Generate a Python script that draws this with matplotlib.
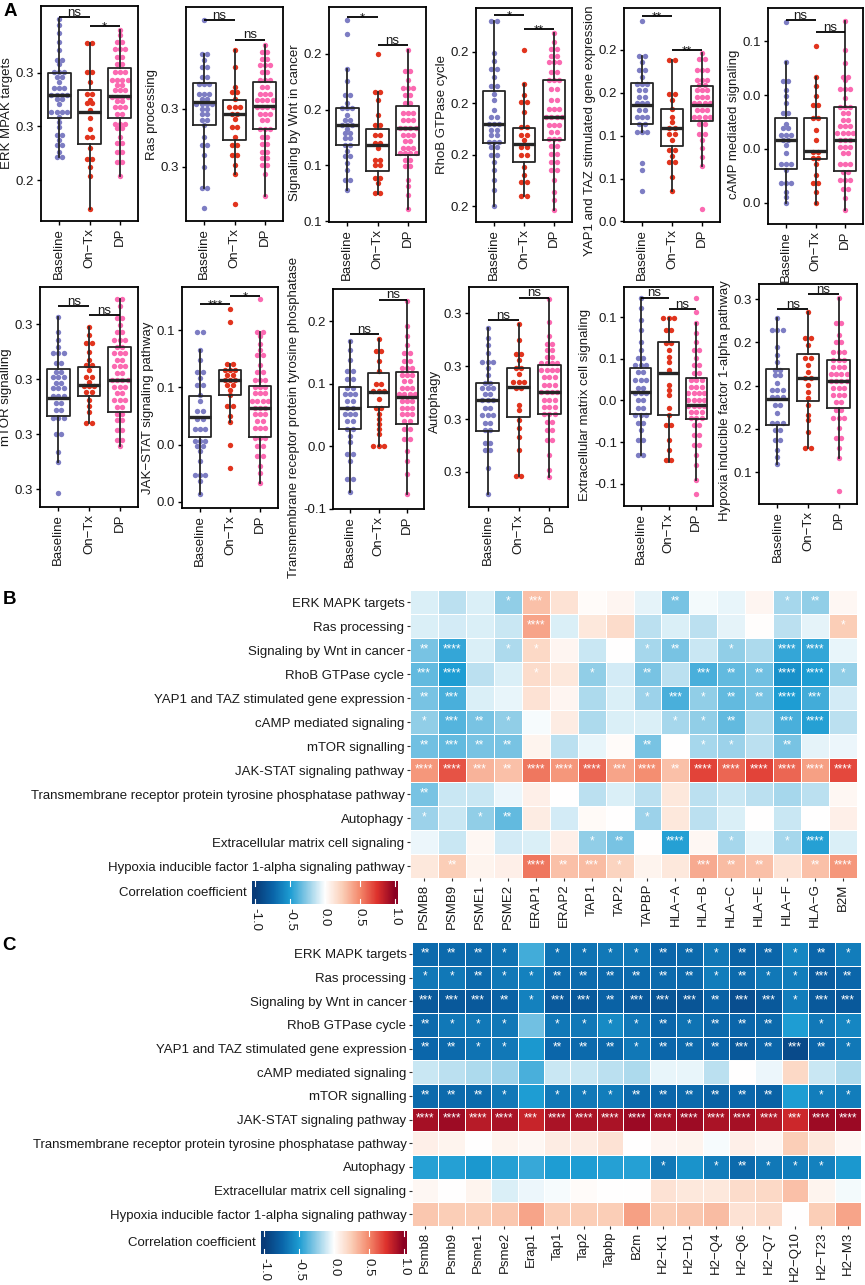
""" <plot.py>

    Boxplots of pathway scores plus two correlation heatmaps."""

import numpy as np
import matplotlib
matplotlib.use("Agg")
from matplotlib import pyplot as plt
from matplotlib.colors import LinearSegmentedColormap
from matplotlib.ticker import FormatStrFormatter

plt.rcParams["font.family"] = ["Liberation Sans", "DejaVu Sans"]
plt.rcParams["axes.unicode_minus"] = False

W, H = 865, 1285

groups = ["Baseline", "On\u2212Tx", "DP"]
group_colors = ["#7D7DC3", "#E1341E", "#FB69B1"]

# Panel A data: dot rows as (value, count), box as (low, q1, median, q3, high)
# -----------------------------------------------------------------------------

erk_ticks = [0.24, 0.26, 0.28]
erk_base = [(.300, 1), (.298, 1), (.295, 1), (.2916, 1), (.2884, 1), (.285, 2), (.2835, 1), (.2804, 3), (.2785, 2),
            (.2766, 1), (.2745, 3), (.2719, 4), (.2701, 2), (.2685, 1), (.2654, 4), (.2635, 1), (.2616, 1), (.2599, 1),
            (.2568, 2), (.2549, 1), (.253, 2), (.2506, 1), (.2487, 2)]
erk_ontx = [(.2912, 2), (.2804, 2), (.2766, 1), (.2723, 2), (.2700, 1), (.2686, 2), (.266, 1), (.263, 1), (.259, 1),
            (.256, 2), (.252, 1), (.248, 2), (.245, 1), (.2415, 1), (.229, 1)]
erk_dp = [(.2961, 1), (.294, 1), (.2916, 2), (.289, 3), (.286, 2), (.2835, 2), (.2804, 3), (.2773, 4), (.2754, 2),
          (.2735, 3), (.2711, 4), (.2695, 2), (.2673, 3), (.2648, 2), (.2611, 3), (.2593, 2), (.2561, 1), (.2537, 2),
          (.2506, 2), (.2468, 2), (.2415, 1)]
erk_box = [[.2487, .2632, .2719, .2801, .300], [.229, .2534, .2655, .2735, .2912], [.2415, .263, .2714, .2819, .2961]]
erk_sig = [("ns", .3009), ("*", .2975)]

ras_ticks = [0.28, 0.30]
ras_base = [(.3303, 1), (.3189, 2), (.3166, 1), (.3143, 2), (.3109, 2), (.3086, 3), (.3051, 3), (.3034, 2), (.3017, 4),
            (.300, 2), (.2983, 2), (.296, 2), (.2943, 1), (.2903, 1), (.2874, 2), (.284, 1), (.280, 1), (.2726, 2),
            (.2657, 1)]
ras_ontx = [(.320, 1), (.3143, 1), (.3074, 1), (.3057, 2), (.3034, 1), (.3006, 3), (.2983, 2), (.2966, 1), (.2937, 2),
            (.2903, 1), (.2874, 2), (.284, 2), (.2806, 1), (.2777, 1), (.2671, 1)]
ras_dp = [(.3217, 1), (.3194, 2), (.3171, 2), (.3149, 3), (.3126, 2), (.3097, 3), (.3074, 2), (.3051, 3), (.3029, 4),
          (.3006, 4), (.2983, 3), (.296, 2), (.2931, 3), (.2903, 2), (.288, 2), (.2851, 2), (.2829, 2), (.2806, 2),
          (.2777, 1), (.270, 1)]
ras_box = [[.2726, .2945, .3021, .3089, .3189], [.2777, .2893, .2982, .3031, .320], [.270, .2931, .3009, .3093, .3217]]
ras_sig = [("ns", .3303), ("ns", .3237)]

wnt_ticks = [0.10, 0.14, 0.18, 0.22]
wnt_base = [(.2443, 1), (.2341, 1), (.2093, 1), (.2002, 1), (.1907, 2), (.1847, 1), (.1811, 3), (.1763, 1), (.1728, 2),
            (.1692, 3), (.166, 1), (.1632, 2), (.1596, 2), (.1549, 2), (.1501, 1), (.1465, 2), (.1418, 1), (.137, 1),
            (.1298, 2), (.1222, 1)]
wnt_ontx = [(.2198, 1), (.1923, 2), (.1871, 1), (.1763, 1), (.1692, 2), (.162, 2), (.156, 2), (.1525, 1), (.1441, 2),
            (.1406, 2), (.131, 2), (.1274, 1), (.1203, 2)]
wnt_dp = [(.2224, 1), (.2074, 2), (.2014, 1), (.1954, 3), (.1907, 2), (.1847, 2), (.1775, 3), (.1728, 3), (.1668, 4),
          (.162, 3), (.1573, 2), (.1525, 3), (.149, 4), (.1441, 2), (.1394, 2), (.1298, 1), (.1251, 1), (.1191, 1),
          (.1088, 1)]
wnt_box = [[.1222, .1549, .1687, .1811, .2093], [.1196, .1363, .1549, .1663, .1923], [.1088, .1477, .1668, .1828, .2224]]
wnt_sig = [("*", .246), ("ns", .226)]

rhob_ticks = [0.18, 0.20, 0.22, 0.24]
rhob_base = [(.252, 2), (.2395, 1), (.2365, 1), (.2333, 2), (.230, 1), (.2268, 2), (.2236, 1), (.221, 1), (.2171, 1),
             (.2145, 2), (.2117, 3), (.2094, 2), (.2074, 2), (.2048, 3), (.2029, 2), (.1997, 2), (.1971, 1),
             (.1939, 1), (.190, 1), (.1861, 1), (.1802, 1)]
rhob_ontx = [(.2404, 1), (.2275, 1), (.2233, 1), (.2203, 2), (.2165, 1), (.2107, 2), (.2074, 2), (.2055, 1),
             (.2029, 2), (.1997, 2), (.1951, 1), (.1919, 1), (.1893, 2), (.1838, 2)]
rhob_dp = [(.2472, 1), (.2436, 1), (.241, 2), (.2384, 2), (.2359, 3), (.232, 2), (.2288, 3), (.2255, 2), (.221, 2),
           (.2178, 3), (.2145, 4), (.2113, 3), (.2087, 2), (.2061, 3), (.2035, 2), (.2003, 2), (.1971, 2), (.1938, 2),
           (.190, 1), (.1855, 1), (.1822, 1), (.1786, 1)]
rhob_box = [[.1802, .2044, .2117, .2246, .252], [.1838, .1971, .2039, .2104, .2275], [.1786, .2057, .2145, .2291, .2472]]
rhob_sig = [("*", .254), ("**", .2488)]

yap_ticks = [0.04, 0.08, 0.12, 0.16, 0.20]
yap_base = [(.2266, 1), (.1947, 2), (.1886, 1), (.1808, 2), (.1746, 1), (.1684, 3), (.1623, 2), (.156, 2), (.150, 3),
            (.1437, 2), (.1375, 3), (.1313, 2), (.1236, 3), (.0942, 1), (.088, 1), (.0688, 1)]
yap_ontx = [(.1901, 2), (.1592, 2), (.153, 1), (.1452, 1), (.1375, 1), (.1329, 1), (.1267, 2), (.122, 2), (.1158, 1),
            (.1066, 2), (.101, 1), (.0957, 2), (.0818, 1), (.0688, 1)]
yap_dp = [(.1969, 1), (.1916, 2), (.1808, 3), (.1715, 3), (.1669, 2), (.1623, 3), (.156, 3), (.150, 4), (.1437, 3),
          (.1375, 4), (.1313, 2), (.122, 2), (.1158, 1), (.1081, 1), (.1004, 1), (.092, 1), (.0515, 1)]
yap_box = [[.1236, .1307, .149, .169, .1947], [.0688, .1103, .127, .1452, .1901], [.092, .1338, .149, .166, .1969]]
yap_sig = [("**", .2319), ("**", .2003)]

camp_ticks = [0.00, 0.02, 0.04, 0.06]
camp_base = [(.0672, 1), (.0523, 1), (.0451, 2), (.042, 1), (.0395, 1), (.037, 1), (.0332, 2), (.0293, 1), (.0276, 2),
             (.0251, 3), (.0233, 2), (.0214, 1), (.0183, 1), (.0145, 3), (.012, 1), (.0071, 3), (.004, 1), (.0021, 1),
             (.000, 1)]
camp_ontx = [(.0584, 1), (.0467, 1), (.0435, 1), (.0395, 1), (.0364, 2), (.0314, 2), (.027, 1), (.0233, 1), (.0189, 2),
             (.0164, 2), (.0145, 1), (.0101, 1), (.0071, 2), (.004, 1), (.000, 1)]
camp_dp = [(.0675, 1), (.0566, 1), (.0519, 1), (.0469, 2), (.0457, 1), (.0422, 3), (.0388, 1), (.0357, 3), (.0332, 2),
           (.0308, 2), (.0283, 3), (.0258, 4), (.0233, 3), (.0208, 3), (.0183, 2), (.0145, 3), (.0115, 2), (.0084, 3),
           (.0052, 2), (.0015, 1), (-.0028, 1)]
camp_box = [[.000, .0125, .0233, .0314, .0523], [-.0004, .0162, .0193, .0315, .0467], [-.0028, .0117, .0233, .0357, .0675]]
camp_sig = [("ns", .0678), ("ns", .0635)]

mtor_ticks = [0.26, 0.28, 0.30, 0.32]
mtor_base = [(.3227, 1), (.3172, 1), (.3142, 1), (.3116, 1), (.3095, 3), (.3058, 2), (.3025, 2), (.3007, 3), (.2985, 2),
             (.2967, 3), (.2938, 3), (.2913, 2), (.2887, 2), (.2858, 3), (.280, 2), (.2735, 1), (.2698, 1), (.2585, 1)]
mtor_ontx = [(.319, 1), (.316, 1), (.313, 2), (.3098, 1), (.3069, 1), (.3051, 2), (.3033, 1), (.3007, 2), (.2989, 1),
             (.2975, 3), (.2953, 2), (.2924, 1), (.2902, 1), (.288, 1), (.284, 2)]
mtor_dp = [(.3291, 2), (.3265, 1), (.3222, 2), (.3196, 1), (.3171, 2), (.3142, 3), (.3116, 2), (.3095, 3), (.3069, 2),
           (.3047, 3), (.3022, 2), (.2996, 4), (.2971, 3), (.2949, 2), (.2924, 3), (.2898, 2), (.2873, 2), (.2851, 2),
           (.2815, 2), (.2778, 2), (.2756, 1)]
mtor_box = [[.2698, .2866, .2932, .3035, .3227], [.2839, .2938, .2978, .3045, .319], [.2756, .2879, .2996, .3117, .3291]]
mtor_sig = [("ns", .3265), ("ns", .3232)]

jak_ticks = [0.00, 0.04, 0.08, 0.12]
jak_base = [(.1188, 2), (.106, 1), (.099, 1), (.0905, 2), (.0863, 1), (.0814, 2), (.0744, 1), (.0709, 1), (.0639, 2),
            (.0583, 2), (.0512, 3), (.0428, 3), (.0393, 2), (.0358, 1), (.0288, 1), (.019, 3), (.0147, 1), (.0056, 1)]
jak_ontx = [(.1345, 1), (.1258, 1), (.0966, 2), (.0919, 3), (.0884, 2), (.0849, 3), (.0814, 2), (.0779, 1), (.0744, 1),
            (.0674, 2), (.0604, 1), (.0556, 1), (.0398, 1), (.024, 1)]
jak_dp = [(.1415, 1), (.1188, 2), (.1158, 1), (.1107, 1), (.106, 1), (.1025, 2), (.0954, 1), (.0905, 2), (.0849, 3),
          (.080, 3), (.0758, 3), (.0709, 4), (.066, 3), (.0618, 3), (.0568, 2), (.0519, 3), (.0449, 3), (.0393, 2),
          (.0323, 2), (.0253, 1), (.0204, 1), (.0135, 1)]
jak_box = [[.0054, .0451, .0592, .0739, .106], [.0556, .0744, .0854, .0919, .0966], [.0135, .0451, .0658, .0809, .1188]]
jak_sig = [("***", .1382), ("*", .1439)]

tm_ticks = [-0.1, 0.0, 0.1, 0.2]
tm_base = [(.168, 1), (.155, 1), (.139, 1), (.120, 2), (.107, 2), (.094, 2), (.083, 3), (.072, 2), (.062, 2), (.051, 3),
           (.040, 2), (.027, 2), (.016, 1), (.0065, 1), (-.0125, 2), (-.0237, 1), (-.052, 2), (-.0727, 1)]
tm_ontx = [(.172, 1), (.152, 2), (.136, 1), (.120, 1), (.099, 2), (.088, 3), (.075, 1), (.062, 2), (.051, 1), (.043, 1),
           (.035, 1), (.027, 1), (.019, 1), (.000, 3)]
tm_dp = [(.233, 1), (.192, 1), (.177, 1), (.163, 1), (.150, 2), (.136, 2), (.126, 3), (.115, 3), (.104, 2), (.094, 3),
         (.083, 4), (.072, 3), (.062, 3), (.051, 3), (.040, 2), (.027, 2), (.011, 2), (-.008, 1), (-.024, 1),
         (-.045, 1), (-.076, 1)]
tm_box = [[-.0727, .0273, .0608, .0947, .168], [.000, .0628, .0868, .1177, .172], [-.0764, .0364, .0788, .1186, .233]]
tm_sig = [("ns", .180), ("ns", .2346)]

auto_ticks = [0.26, 0.28, 0.30, 0.32]
auto_base = [(.3143, 1), (.3106, 1), (.308, 1), (.305, 1), (.3017, 3), (.2993, 1), (.2967, 1), (.2937, 2), (.2917, 3),
             (.2895, 2), (.2872, 3), (.2841, 2), (.2815, 3), (.2785, 2), (.2758, 2), (.2709, 2), (.2682, 2),
             (.2614, 1), (.2518, 1)]
auto_ontx = [(.316, 1), (.3099, 1), (.3048, 2), (.3023, 1), (.2993, 2), (.297, 1), (.294, 3), (.2917, 2), (.2853, 1),
             (.2834, 1), (.2796, 1), (.2765, 1), (.2733, 1), (.2682, 1), (.2585, 2)]
auto_dp = [(.3253, 1), (.3168, 1), (.3114, 1), (.3086, 2), (.3061, 2), (.3034, 2), (.3012, 4), (.2985, 4), (.2959, 3),
           (.2928, 3), (.2902, 4), (.2872, 3), (.2845, 3), (.2819, 3), (.2788, 2), (.2758, 2), (.272, 2), (.2663, 1),
           (.2606, 1), (.2581, 1)]
auto_box = [[.2518, .2755, .2872, .2937, .3143], [.2585, .2806, .2922, .2992, .316], [.2581, .2819, .2903, .3004, .3253]]
auto_sig = [("ns", .3175), ("ns", .3259)]

ecm_ticks = [-0.10, -0.05, 0.0, 0.05, 0.10]
ecm_base = [(.1229, 1), (.111, 1), (.0967, 1), (.0847, 1), (.0706, 1), (.0606, 1), (.051, 2), (.0426, 3), (.0341, 2),
            (.0245, 3), (.0149, 2), (.0088, 3), (.000, 2), (-.0092, 2), (-.0177, 3), (-.0273, 2), (-.0358, 1),
            (-.0478, 2), (-.0659, 2)]
ecm_ontx = [(.0988, 3), (.0847, 2), (.069, 2), (.0606, 1), (.0522, 1), (.046, 1), (.0365, 1), (.0184, 1), (.0125, 1),
            (.006, 1), (-.0093, 1), (-.0177, 1), (-.0297, 2), (-.048, 1), (-.060, 1), (-.072, 2)]
ecm_dp = [(.1236, 1), (.1067, 1), (.0935, 1), (.081, 1), (.0706, 1), (.0606, 2), (.051, 1), (.0426, 2), (.0325, 2),
          (.0245, 3), (.0161, 3), (.0088, 4), (.000, 4), (-.0068, 4), (-.014, 3), (-.0213, 3), (-.0297, 2),
          (-.0417, 2), (-.0537, 2), (-.0659, 1), (-.078, 1), (-.0952, 1), (-.112, 1)]
ecm_box = [[-.0659, -.0169, .0104, .0386, .1229], [-.074, -.0177, .0325, .0699, .0988], [-.0952, -.0229, -.0057, .0265, .0935]]
ecm_sig = [("ns", .1236), ("ns", .1096)]

hif_ticks = [0.14, 0.17, 0.20, 0.23, 0.26]
hif_base = [(.247, 1), (.2385, 3), (.227, 1), (.2212, 1), (.2163, 1), (.2108, 2), (.2073, 2), (.2018, 1), (.1969, 3),
            (.1921, 3), (.1865, 2), (.181, 1), (.174, 3), (.1692, 2), (.1623, 2), (.1554, 1), (.1505, 1), (.1457, 1)]
hif_ontx = [(.2512, 1), (.2328, 2), (.2281, 1), (.2189, 2), (.2143, 1), (.2094, 1), (.2053, 2), (.2004, 1), (.1956, 1),
            (.1914, 1), (.1865, 1), (.1796, 1), (.1761, 1), (.1678, 1), (.1567, 2)]
hif_dp = [(.2609, 1), (.2436, 2), (.235, 1), (.2304, 2), (.2235, 3), (.2177, 3), (.2129, 3), (.208, 4), (.2032, 4),
          (.1983, 3), (.1935, 3), (.1886, 2), (.1831, 2), (.1775, 3), (.1706, 1), (.1637, 2), (.1567, 1), (.150, 1),
          (.127, 1)]
hif_box = [[.1455, .1727, .1905, .2113, .247], [.1565, .1895, .2055, .2219, .2512], [.150, .1843, .2032, .2177, .2609]]
hif_sig = [("ns", .2529), ("ns", .2635)]

panels = [
    ("ERK MPAK targets", erk_ticks, [erk_base, erk_ontx, erk_dp], erk_box, erk_sig),
    ("Ras processing", ras_ticks, [ras_base, ras_ontx, ras_dp], ras_box, ras_sig),
    ("Signaling by Wnt in cancer", wnt_ticks, [wnt_base, wnt_ontx, wnt_dp], wnt_box, wnt_sig),
    ("RhoB GTPase cycle", rhob_ticks, [rhob_base, rhob_ontx, rhob_dp], rhob_box, rhob_sig),
    ("YAP1 and TAZ stimulated gene expression", yap_ticks, [yap_base, yap_ontx, yap_dp], yap_box, yap_sig),
    ("cAMP mediated signaling", camp_ticks, [camp_base, camp_ontx, camp_dp], camp_box, camp_sig),
    ("mTOR signalling", mtor_ticks, [mtor_base, mtor_ontx, mtor_dp], mtor_box, mtor_sig),
    ("JAK\u2212STAT signaling pathway", jak_ticks, [jak_base, jak_ontx, jak_dp], jak_box, jak_sig),
    ("Transmembrane receptor protein tyrosine phosphatase", tm_ticks, [tm_base, tm_ontx, tm_dp], tm_box, tm_sig),
    ("Autophagy", auto_ticks, [auto_base, auto_ontx, auto_dp], auto_box, auto_sig),
    ("Extracellular matrix cell signaling", ecm_ticks, [ecm_base, ecm_ontx, ecm_dp], ecm_box, ecm_sig),
    ("Hypoxia inducible factor 1-alpha pathway", hif_ticks, [hif_base, hif_ontx, hif_dp], hif_box, hif_sig),
]

# Panels B and C: correlation heatmaps
# ------------------------------------

pathways = ["ERK MAPK targets", "Ras processing", "Signaling by Wnt in cancer", "RhoB GTPase cycle",
            "YAP1 and TAZ stimulated gene expression", "cAMP mediated signaling", "mTOR signalling",
            "JAK-STAT signaling pathway", "Transmembrane receptor protein tyrosine phosphatase pathway",
            "Autophagy", "Extracellular matrix cell signaling", "Hypoxia inducible factor 1-alpha signaling pathway"]

human_genes = ["PSMB8", "PSMB9", "PSME1", "PSME2", "ERAP1", "ERAP2", "TAP1", "TAP2", "TAPBP",
               "HLA\u2212A", "HLA\u2212B", "HLA\u2212C", "HLA\u2212E", "HLA\u2212F", "HLA\u2212G", "B2M"]
mouse_genes = ["Psmb8", "Psmb9", "Psme1", "Psme2", "Erap1", "Tap1", "Tap2", "Tapbp", "B2m", "H2\u2212K1",
               "H2\u2212D1", "H2\u2212Q4", "H2\u2212Q6", "H2\u2212Q7", "H2\u2212Q10", "H2\u2212T23", "H2\u2212M3"]

b_vals = [
    [-0.08, -0.15, -0.08, -0.25, 0.30, 0.15, 0.02, 0.05, -0.06, -0.30, -0.03, -0.05, 0.05, -0.20, -0.25, 0.04],
    [-0.08, -0.10, -0.08, -0.12, 0.40, -0.08, 0.12, 0.18, -0.15, -0.08, -0.15, -0.06, 0.01, -0.15, -0.06, 0.25],
    [-0.30, -0.45, -0.08, -0.18, 0.20, 0.05, -0.12, 0.00, -0.20, -0.30, -0.12, -0.25, -0.18, -0.45, -0.45, -0.05],
    [-0.35, -0.50, -0.15, -0.08, 0.18, 0.12, -0.25, -0.10, -0.30, -0.15, -0.40, -0.35, -0.32, -0.55, -0.50, -0.25],
    [-0.30, -0.40, -0.08, -0.05, 0.15, 0.05, -0.18, -0.08, -0.22, -0.40, -0.25, -0.35, -0.30, -0.50, -0.42, -0.10],
    [-0.25, -0.38, -0.30, -0.25, -0.02, 0.10, -0.18, -0.08, -0.08, -0.20, -0.25, -0.35, -0.18, -0.40, -0.48, -0.15],
    [-0.32, -0.35, -0.30, -0.30, 0.06, -0.15, -0.05, 0.02, -0.30, 0.00, -0.20, -0.22, -0.15, -0.30, -0.06, -0.04],
    [0.45, 0.65, 0.35, 0.30, 0.55, 0.45, 0.60, 0.40, 0.48, 0.30, 0.70, 0.60, 0.70, 0.60, 0.42, 0.68],
    [-0.30, -0.12, -0.12, -0.04, 0.08, 0.00, -0.15, -0.08, -0.15, 0.12, -0.15, -0.12, -0.15, -0.20, -0.15, 0.04],
    [-0.22, -0.12, -0.25, -0.35, 0.10, -0.10, 0.03, 0.00, -0.22, 0.12, -0.15, -0.08, 0.00, -0.12, 0.00, 0.08],
    [-0.04, -0.12, 0.04, -0.10, -0.08, 0.08, -0.25, -0.30, 0.00, -0.48, 0.04, -0.20, -0.05, -0.20, -0.48, -0.08],
    [0.12, 0.25, 0.06, 0.08, 0.55, 0.30, 0.32, 0.22, 0.06, 0.12, 0.38, 0.32, 0.30, 0.15, 0.30, 0.45],
]
b_stars = [
    [0, 0, 0, 1, 3, 0, 0, 0, 0, 2, 0, 0, 0, 1, 2, 0],
    [0, 0, 0, 0, 4, 0, 0, 0, 0, 0, 0, 0, 0, 0, 0, 1],
    [2, 4, 0, 1, 1, 0, 0, 0, 1, 2, 0, 1, 0, 4, 4, 0],
    [3, 4, 0, 0, 1, 0, 1, 0, 2, 0, 3, 2, 2, 4, 4, 1],
    [2, 3, 0, 0, 0, 0, 0, 0, 1, 3, 1, 2, 2, 4, 3, 0],
    [1, 3, 2, 1, 0, 0, 0, 0, 0, 1, 1, 2, 0, 3, 4, 0],
    [2, 3, 2, 2, 0, 0, 0, 0, 2, 0, 1, 1, 0, 2, 0, 0],
    [4, 4, 3, 2, 4, 4, 4, 3, 4, 2, 4, 4, 4, 4, 4, 4],
    [2, 0, 0, 0, 0, 0, 0, 0, 0, 0, 0, 0, 0, 0, 0, 0],
    [1, 0, 1, 2, 0, 0, 0, 0, 1, 0, 0, 0, 0, 0, 0, 0],
    [0, 0, 0, 0, 0, 0, 1, 2, 0, 4, 0, 1, 0, 1, 4, 0],
    [0, 2, 0, 0, 4, 2, 3, 1, 0, 0, 3, 2, 2, 0, 2, 4],
]

c_vals = [
    [-0.72, -0.72, -0.72, -0.68, -0.42, -0.68, -0.68, -0.66, -0.66, -0.74, -0.72, -0.66, -0.76, -0.74, -0.60, -0.74, -0.64],
    [-0.66, -0.66, -0.72, -0.66, -0.62, -0.72, -0.72, -0.72, -0.72, -0.72, -0.72, -0.64, -0.72, -0.66, -0.64, -0.80, -0.74],
    [-0.82, -0.82, -0.82, -0.76, -0.62, -0.82, -0.82, -0.76, -0.82, -0.84, -0.84, -0.76, -0.88, -0.82, -0.64, -0.82, -0.82],
    [-0.72, -0.66, -0.66, -0.66, -0.32, -0.66, -0.66, -0.58, -0.66, -0.74, -0.68, -0.72, -0.74, -0.72, -0.50, -0.66, -0.60],
    [-0.74, -0.72, -0.68, -0.66, -0.52, -0.74, -0.72, -0.72, -0.66, -0.74, -0.72, -0.74, -0.82, -0.74, -0.90, -0.74, -0.66],
    [-0.12, -0.15, -0.18, -0.22, -0.40, -0.12, -0.12, -0.15, -0.18, -0.05, -0.05, -0.15, 0.00, -0.04, 0.20, -0.12, -0.18],
    [-0.72, -0.72, -0.72, -0.66, -0.50, -0.66, -0.66, -0.64, -0.72, -0.74, -0.72, -0.76, -0.74, -0.76, -0.50, -0.64, -0.64],
    [0.92, 0.94, 0.86, 0.90, 0.82, 0.90, 0.90, 0.90, 0.95, 0.92, 0.94, 0.90, 0.92, 0.88, 0.80, 0.94, 0.95],
    [0.08, 0.06, 0.00, 0.06, 0.04, 0.10, 0.10, 0.15, 0.00, 0.05, 0.06, -0.02, 0.08, 0.05, 0.25, 0.12, 0.04],
    [-0.48, -0.48, -0.52, -0.48, -0.44, -0.50, -0.50, -0.48, -0.48, -0.66, -0.54, -0.64, -0.72, -0.66, -0.64, -0.62, -0.52],
    [0.04, 0.00, 0.06, -0.08, -0.04, -0.02, 0.02, 0.00, 0.00, 0.15, 0.12, 0.12, 0.18, 0.20, 0.30, 0.06, -0.03],
    [0.28, 0.25, 0.25, 0.28, 0.40, 0.25, 0.25, 0.25, 0.42, 0.25, 0.28, 0.32, 0.15, 0.18, 0.00, 0.25, 0.40],
]
c_stars = [
    [2, 2, 2, 1, 0, 1, 1, 1, 1, 2, 2, 1, 2, 2, 1, 2, 1],
    [1, 1, 2, 1, 1, 2, 2, 2, 2, 2, 2, 1, 2, 1, 1, 3, 2],
    [3, 3, 3, 2, 1, 3, 3, 2, 3, 3, 3, 2, 3, 3, 1, 3, 3],
    [2, 1, 1, 1, 0, 1, 1, 1, 1, 2, 1, 2, 2, 2, 0, 1, 1],
    [2, 2, 1, 1, 0, 2, 2, 2, 1, 2, 2, 2, 3, 2, 3, 2, 1],
    [0] * 17,
    [2, 2, 2, 1, 0, 1, 1, 1, 2, 2, 2, 2, 2, 2, 0, 1, 1],
    [4, 4, 4, 4, 3, 4, 4, 4, 4, 4, 4, 4, 4, 4, 3, 4, 4],
    [0] * 17,
    [0, 0, 0, 0, 0, 0, 0, 0, 0, 1, 0, 1, 2, 1, 1, 1, 0],
    [0] * 17,
    [0] * 17,
]

cbar_ticks = [-1.0, -0.5, 0.0, 0.5, 1.0]

# Layout (pixels): x0, y0, x1, y1, ymin, ymax, ylabel y position
# ---------------------------------------------------------------

layout = [
    (41, 6, 138, 221, .2247, .3050, .50),
    (186, 7, 283, 221, .2614, .3349, .50),
    (329, 7, 426, 222, .0995, .2534, .46),
    (476, 8, 572, 222, .1738, .2569, .50),
    (624, 8, 720, 222, .0395, .2390, .425),
    (768, 8, 863, 224, -.0080, .0724, .46),
    (40, 287, 138, 507, .2535, .3335, .50),
    (182, 287, 278, 508, -.0042, .1502, .455),
    (333, 289, 424, 509, -.1005, .2520, .418),
    (469, 287, 568, 507, .2467, .3300, .48),
    (624, 287, 713, 506, -.1270, .1365, .46),
    (759, 284, 857, 504, .1180, .2704, .47),
]

cmap = LinearSegmentedColormap.from_list("corr", [
    (0.0, "#083B78"), (0.125, "#0A64A8"), (0.25, "#1D9DD3"), (0.375, "#90CDE7"), (0.5, "#FFFFFF"),
    (0.625, "#FBCFB8"), (0.75, "#F4896C"), (0.875, "#DE322D"), (1.0, "#8B0022")])

TXT = "#1a1a1a"
FS = 9.5

fig = plt.figure(figsize=(W / 100, H / 100), dpi=100)


def px_axes(x0, y0, x1, y1):
    return fig.add_axes([x0 / W, 1 - y1 / H, (x1 - x0) / W, (y1 - y0) / H])


# Panel A
# -------

for (label, ticks, rows3, box3, sig), (x0, y0, x1, y1, ylo, yhi, lab_y) in zip(panels, layout):
    ax = px_axes(x0, y0, x1, y1)
    dx = 5.3 * 3.2 / (x1 - x0)

    for i, rows in enumerate(rows3):
        xs, ys = [], []
        for v, n in rows:
            xs.extend(i + 1 + (np.arange(n) - (n - 1) / 2) * dx)
            ys.extend([v] * n)
        ax.scatter(xs, ys, s=15, color=group_colors[i], linewidths=0, zorder=2)

    stats = [dict(whislo=b[0], q1=b[1], med=b[2], q3=b[3], whishi=b[4]) for b in box3]
    line = dict(color="#262626", linewidth=1.3)
    ax.bxp(stats, positions=[1, 2, 3], widths=0.75, showfliers=False, showcaps=False,
           boxprops=line, whiskerprops=line, medianprops=dict(color="#262626", linewidth=2.4), zorder=3)

    for k, (txt, y) in enumerate(sig):
        ax.plot([k + 1, k + 2], [y, y], color="black", lw=1.3, solid_capstyle="butt", clip_on=False, zorder=4)
        off = 1.0 if txt == "ns" else -3.2
        ax.annotate(txt, xy=(k + 1.5, y), xytext=(0, off), textcoords="offset points", ha="center",
                    va="baseline", fontsize=FS, color=TXT, annotation_clip=False)

    ax.set_xlim(0.4, 3.6)
    ax.set_ylim(ylo, yhi)
    ax.set_yticks(ticks)
    ax.yaxis.set_major_formatter(FormatStrFormatter("%.1f"))
    ax.set_xticks([1, 2, 3])
    ax.set_xticklabels(groups, rotation=90)
    ax.tick_params(length=3, width=1, labelsize=FS, labelcolor=TXT, pad=2)
    ax.set_ylabel(label, fontsize=FS, color=TXT, labelpad=2, y=lab_y)
    for s in ax.spines.values():
        s.set_linewidth(1.3)


# Panels B and C
# --------------

def draw_heat(box, vals, stars, cols):
    ax = px_axes(*box)
    v = np.array(vals)
    ax.pcolormesh(np.arange(len(cols) + 1), np.arange(len(pathways) + 1), v, cmap=cmap, vmin=-1, vmax=1,
                  edgecolors="white", linewidth=0.6)
    for i, row in enumerate(stars):
        for j, n in enumerate(row):
            if n:
                ax.text(j + 0.5, i + 0.47, "*" * n, ha="center", va="center", fontsize=8.5, color="white")
    ax.set_xlim(0, len(cols))
    ax.set_ylim(len(pathways), 0)
    ax.set_yticks(np.arange(len(pathways)) + 0.5)
    ax.set_yticklabels(pathways)
    ax.set_xticks(np.arange(len(cols)) + 0.5)
    ax.set_xticklabels(cols, rotation=90)
    ax.tick_params(length=2.5, width=0.8, color="#333333", labelsize=FS, labelcolor=TXT, pad=1.5)
    for s in ax.spines.values():
        s.set_visible(False)


def draw_cbar(box, label_x):
    cax = px_axes(*box)
    lim = 1.043
    grad = np.linspace(-lim, lim, 300).reshape(1, -1)
    cax.imshow(grad, aspect="auto", cmap=cmap, vmin=-1, vmax=1, extent=[-lim, lim, 0, 1])
    for t in cbar_ticks:
        cax.plot([t, t], [0, 0.2], color="white", lw=0.8)
        cax.plot([t, t], [0.8, 1], color="white", lw=0.8)
    cax.set_xlim(-lim, lim)
    cax.set_ylim(0, 1)
    cax.set_yticks([])
    cax.set_xticks(cbar_ticks)
    cax.set_xticklabels(["%.1f" % t for t in cbar_ticks], rotation=270)
    cax.tick_params(length=0, labelsize=FS, labelcolor=TXT, pad=3)
    for s in cax.spines.values():
        s.set_visible(False)
    yc = (box[1] + box[3]) / 2
    fig.text(label_x / W, 1 - yc / H, "Correlation coefficient", ha="right", va="center", fontsize=FS, color=TXT)


draw_heat((410, 590, 857, 878), b_vals, b_stars, human_genes)
draw_cbar((252, 881, 398, 904), 247)
draw_heat((412, 942, 861, 1226), c_vals, c_stars, mouse_genes)
draw_cbar((261, 1231, 407, 1254), 256)

for letter, x, y in [("A", 10, 11.5), ("B", 9, 599.5), ("C", 9, 945)]:
    fig.text(x / W, 1 - y / H, letter, ha="center", va="center", fontsize=13.5, fontweight="bold")

fig.savefig("out.png", dpi=100)
